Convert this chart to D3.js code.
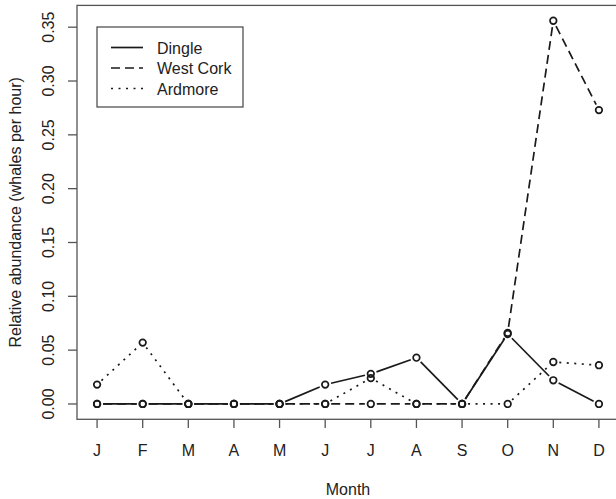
<!DOCTYPE html>
<html>
<head>
<meta charset="utf-8">
<script src="https://d3js.org/d3.v7.min.js"></script>
<style>
body { margin: 0; background: #fff; }
text { font-family: "Liberation Sans", Arial, sans-serif; fill: #222; }
</style>
</head>
<body>
<svg width="616" height="499"></svg>
<script>
const months = ["J", "F", "M", "A", "M", "J", "J", "A", "S", "O", "N", "D"];
const dingle = [0, 0, 0, 0, 0, 0.018, 0.028, 0.043, 0, 0.065, 0.022, 0];
const westCork = [0, 0, 0, 0, 0, 0, 0, 0, 0, 0.066, 0.356, 0.273];
const ardmore = [0.018, 0.057, 0, 0, 0, 0, 0.024, 0, 0, 0, 0.039, 0.036];
const yTicks = [0, 0.05, 0.10, 0.15, 0.20, 0.25, 0.30, 0.35];

const series = [
    { name: "Dingle", values: dingle, dash: null },
    { name: "West Cork", values: westCork, dash: "9,5" },
    { name: "Ardmore", values: ardmore, dash: "2,5.5" }
];

const svg = d3.select("svg");
const ink = "#1a1a1a";
const fs = 16;

// scales (R style 4% padding)
const x = d3.scaleLinear().domain([0.56, 12.44]).range([77, 619]);
const y = d3.scaleLinear().domain([-0.01424, 0.37024]).range([419.3, 5.4]);

// box
svg.append("rect")
    .attr("x", x(0.56)).attr("y", y(0.37024))
    .attr("width", x(12.44) - x(0.56)).attr("height", y(-0.01424) - y(0.37024))
    .attr("fill", "none").attr("stroke", "#555").attr("stroke-width", 1.3);

// y axis
const yAxis = svg.append("g");
yTicks.forEach(t => {
    yAxis.append("line")
        .attr("x1", 68).attr("x2", 77)
        .attr("y1", y(t)).attr("y2", y(t))
        .attr("stroke", "#555").attr("stroke-width", 1.3);
    yAxis.append("text")
        .attr("transform", `translate(54,${y(t)}) rotate(-90)`)
        .attr("text-anchor", "middle")
        .attr("font-size", fs)
        .text(t.toFixed(2));
});

// x axis
const xAxis = svg.append("g");
months.forEach((m, i) => {
    xAxis.append("line")
        .attr("x1", x(i + 1)).attr("x2", x(i + 1))
        .attr("y1", 419).attr("y2", 428)
        .attr("stroke", "#555").attr("stroke-width", 1.3);
    xAxis.append("text")
        .attr("x", x(i + 1)).attr("y", 456)
        .attr("text-anchor", "middle")
        .attr("font-size", fs)
        .text(m);
});

svg.append("text")
    .attr("x", (x(0.56) + x(12.44)) / 2).attr("y", 495)
    .attr("text-anchor", "middle").attr("font-size", fs)
    .text("Month");

svg.append("text")
    .attr("transform", `translate(21,${(y(-0.01424) + y(0.37024)) / 2}) rotate(-90)`)
    .attr("text-anchor", "middle").attr("font-size", fs)
    .text("Relative abundance (whales per hour)");

// lines with gaps around points (type = "b")
const gap = 6;
series.forEach(s => {
    const pts = s.values.map((v, i) => [x(i + 1), y(v)]);
    const g = svg.append("g");
    for (let i = 0; i < pts.length - 1; i++) {
        const [x0, y0] = pts[i], [x1, y1] = pts[i + 1];
        const len = Math.hypot(x1 - x0, y1 - y0);
        if (len <= 2 * gap) continue;
        const ux = (x1 - x0) / len, uy = (y1 - y0) / len;
        g.append("line")
            .attr("x1", x0 + ux * gap).attr("y1", y0 + uy * gap)
            .attr("x2", x1 - ux * gap).attr("y2", y1 - uy * gap)
            .attr("stroke", ink).attr("stroke-width", 1.7)
            .attr("stroke-dasharray", s.dash);
    }
    g.selectAll("circle")
        .data(pts)
        .enter()
        .append("circle")
        .attr("cx", d => d[0]).attr("cy", d => d[1])
        .attr("r", 3.3)
        .attr("fill", "none").attr("stroke", ink).attr("stroke-width", 1.7);
});

// legend
const legend = svg.append("g");
legend.append("rect")
    .attr("x", 97).attr("y", 27).attr("width", 146).attr("height", 80)
    .attr("fill", "#fff").attr("stroke", "#444").attr("stroke-width", 1.2);
series.forEach((s, i) => {
    const ly = 47.5 + i * 20.5;
    legend.append("line")
        .attr("x1", 111).attr("x2", 143)
        .attr("y1", ly).attr("y2", ly)
        .attr("stroke", ink).attr("stroke-width", 1.7)
        .attr("stroke-dasharray", s.dash);
    legend.append("text")
        .attr("x", 157).attr("y", ly + 6)
        .attr("font-size", fs)
        .text(s.name);
});
</script>
</body>
</html>
